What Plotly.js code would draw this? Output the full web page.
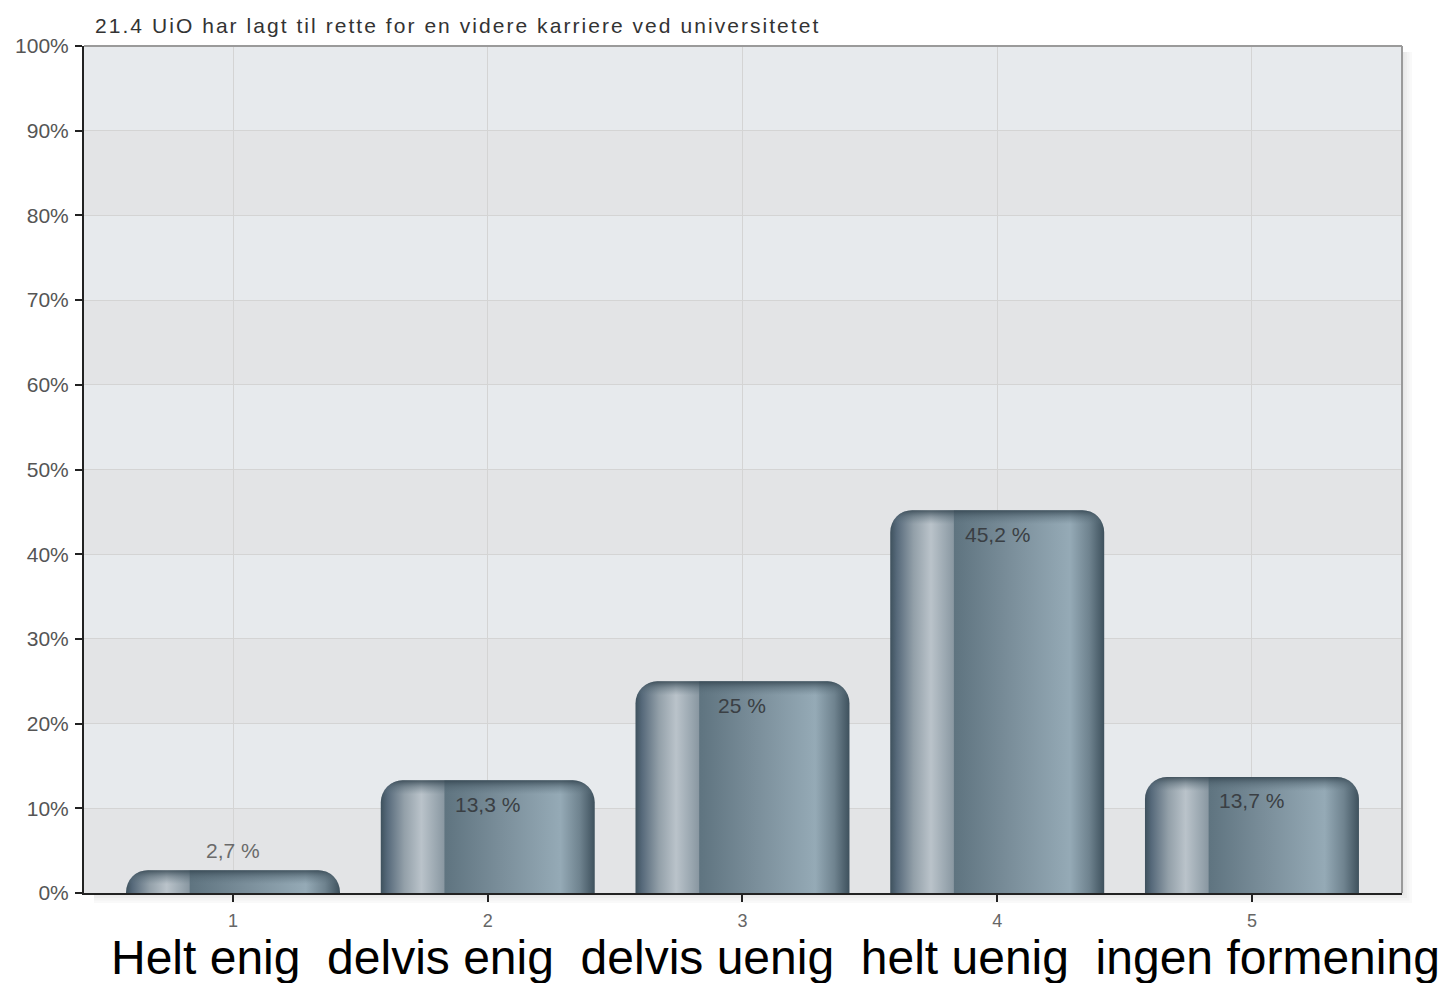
<!DOCTYPE html>
<html>
<head>
<meta charset="utf-8">
<script src="https://cdn.plot.ly/plotly-3.0.1.min.js"></script>
<style>
  html, body { margin: 0; padding: 0; background: #ffffff; }
  #chart { width: 1443px; height: 983px; }
</style>
</head>
<body>
<div id="chart"></div>
<script>
// ---- data ----
const categories = ['1', '2', '3', '4', '5'];
const values = [2.7, 13.3, 25, 45.2, 13.7];
const valueLabels = ['2,7 %', '13,3 %', '25 %', '45,2 %', '13,7 %'];
const answerLabels = ['Helt enig', 'delvis enig', 'delvis uenig', 'helt uenig', 'ingen formening'];
const yTickValues = [0, 10, 20, 30, 40, 50, 60, 70, 80, 90, 100];
const yTickLabels = ['0%', '10%', '20%', '30%', '40%', '50%', '60%', '70%', '80%', '90%', '100%'];
const chartTitle = '21.4 UiO har lagt til rette for en videre karriere ved universitetet';

const FONT = 'Liberation Sans, Arial, Helvetica, sans-serif';
const W = 1443, H = 983;
const M = {l: 84, r: 41, t: 46, b: 90};
const PW = W - M.l - M.r, PH = H - M.t - M.b;

// background bands (alternating per 10% tick interval)
const shapes = [];
for (let i = 0; i < yTickValues.length - 1; i++) {
  shapes.push({
    type: 'rect', layer: 'below', xref: 'paper', yref: 'y',
    x0: 0, x1: 1, y0: yTickValues[i], y1: yTickValues[i + 1],
    fillcolor: (i % 2 === 0) ? '#e3e4e6' : '#e7eaed', line: {width: 0}
  });
}
// soft shadow right and bottom of frame
for (let k = 1; k <= 4; k++) {
  shapes.push({
    type: 'rect', layer: 'below', xref: 'paper', yref: 'paper',
    x0: 1, x1: 1 + (2.5 * k) / PW, y0: -(2.5 * k) / PH, y1: 1 - 6 / PH,
    fillcolor: 'rgba(0,0,0,0.025)', line: {width: 0}
  });
  shapes.push({
    type: 'rect', layer: 'below', xref: 'paper', yref: 'paper',
    x0: 10 / PW, x1: 1, y0: -(2.5 * k) / PH, y1: 0,
    fillcolor: 'rgba(0,0,0,0.025)', line: {width: 0}
  });
}
// top and right frame lines (grey)
shapes.push({type: 'line', layer: 'above', xref: 'paper', yref: 'paper', x0: 0, x1: 1, y0: 1, y1: 1, line: {color: '#9a9a9a', width: 2}});
shapes.push({type: 'line', layer: 'above', xref: 'paper', yref: 'paper', x0: 1, x1: 1, y0: 0, y1: 1, line: {color: '#9a9a9a', width: 2}});

const annotations = [];
for (let i = 0; i < categories.length; i++) {
  const outside = values[i] < 5;
  annotations.push({
    x: i, y: values[i], xref: 'x', yref: 'y',
    text: valueLabels[i], showarrow: false,
    yshift: outside ? 20 : -24, yanchor: 'middle', xanchor: 'center',
    font: {family: FONT, size: 21, color: outside ? '#6a6a6a' : '#3a3f44'}
  });
}
annotations.push({
  xref: 'paper', yref: 'paper', x: (109 - M.l) / PW, y: -(957 - (H - M.b)) / PH,
  xanchor: 'left', yanchor: 'middle', showarrow: false,
  text: answerLabels.join('\u00a0\u00a0'),
  font: {family: FONT, size: 48, color: '#000000'}
});

const trace = {
  type: 'bar',
  x: categories,
  y: values,
  width: 0.84,
  marker: {color: '#6f8591', cornerradius: 22, line: {width: 0}},
  hoverinfo: 'none'
};

const layout = {
  width: W, height: H,
  margin: M,
  paper_bgcolor: '#ffffff',
  plot_bgcolor: '#e7eaed',
  showlegend: false,
  title: {
    text: chartTitle, xref: 'container', yref: 'container',
    x: 95 / W, xanchor: 'left', y: 1 - 26 / H, yanchor: 'middle',
    font: {family: FONT, size: 21, color: '#333333'}
  },
  xaxis: {
    type: 'category', range: [-0.585, 4.589],
    tickvals: categories, ticktext: categories,
    ticks: 'outside', ticklen: 7, tickwidth: 2, tickcolor: '#222222',
    showline: true, linecolor: '#222222', linewidth: 2,
    showgrid: true, gridcolor: '#d4d4d4', gridwidth: 1, zeroline: false,
    tickfont: {family: FONT, size: 18, color: '#666666'},
    ticklabelstandoff: 3, fixedrange: true
  },
  yaxis: {
    range: [0, 100], tickvals: yTickValues, ticktext: yTickLabels,
    ticks: 'outside', ticklen: 7, tickwidth: 2, tickcolor: '#222222',
    showline: true, linecolor: '#222222', linewidth: 2,
    showgrid: true, gridcolor: '#d4d4d4', gridwidth: 1, zeroline: false,
    tickfont: {family: FONT, size: 21, color: '#555555'},
    ticklabelstandoff: 2, fixedrange: true
  },
  shapes: shapes,
  annotations: annotations
};

Plotly.newPlot('chart', [trace], layout, {displayModeBar: false, staticPlot: true}).then(function (gd) {
  const NS = 'http://www.w3.org/2000/svg';
  const svg = gd.querySelector('svg.main-svg');
  let defs = svg.querySelector('defs');
  if (!defs) { defs = document.createElementNS(NS, 'defs'); svg.insertBefore(defs, svg.firstChild); }
  function makeGrad(id, attrs, stops) {
    const g = document.createElementNS(NS, 'linearGradient');
    g.setAttribute('id', id);
    Object.keys(attrs).forEach(k => g.setAttribute(k, attrs[k]));
    stops.forEach(s => {
      const st = document.createElementNS(NS, 'stop');
      st.setAttribute('offset', s[0]);
      st.setAttribute('stop-color', s[1]);
      if (s.length > 2) st.setAttribute('stop-opacity', s[2]);
      g.appendChild(st);
    });
    defs.appendChild(g);
  }
  makeGrad('barGradH', {x1: '0', y1: '0', x2: '1', y2: '0'}, [
    [0.00, '#3e515d'], [0.03, '#56697a'], [0.11, '#93a0a9'], [0.19, '#bac3ca'],
    [0.26, '#9aa7b0'], [0.295, '#8a98a2'], [0.30, '#5f7480'], [0.55, '#798d99'],
    [0.84, '#95aab6'], [0.93, '#6f838f'], [1.00, '#3e515d']
  ]);
  const paths = gd.querySelectorAll('.barlayer .point path');
  paths.forEach(function (p, i) {
    p.style.fill = 'url(#barGradH)';
    p.style.fillOpacity = 1;
    const bb = p.getBBox();
    const id = 'barTop' + i;
    makeGrad(id, {gradientUnits: 'userSpaceOnUse', x1: 0, y1: bb.y, x2: 0, y2: bb.y + 14}, [
      [0, '#33444f', 0.85], [0.45, '#4a5d69', 0.45], [1, '#5f7480', 0]
    ]);
    const c = p.cloneNode(false);
    c.style.fill = 'url(#' + id + ')';
    c.style.stroke = 'none';
    p.parentNode.appendChild(c);
  });
  // widen title letter spacing to match reference text run
  const t = gd.querySelector('.g-gtitle text');
  if (t) {
    const w0 = t.getComputedTextLength();
    const target = 723;
    const n = chartTitle.length - 1;
    if (w0 < target && n > 0) t.style.letterSpacing = ((target - w0) / n).toFixed(2) + 'px';
  }
});
</script>
</body>
</html>
